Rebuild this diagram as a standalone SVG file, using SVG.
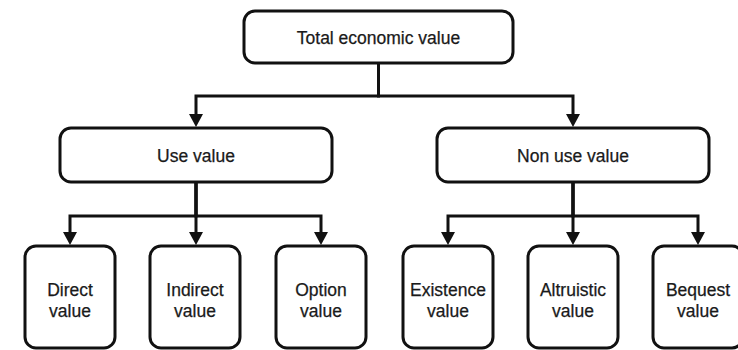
<svg xmlns="http://www.w3.org/2000/svg" width="738" height="350" viewBox="0 0 738 350">
  <style>
    .box { fill: #ffffff; stroke: #111111; stroke-width: 3; }
    .lbl { font-family: "Liberation Sans", Arial, sans-serif; font-size: 17.5px; fill: #1a1a1a; stroke: #1a1a1a; stroke-width: 0.25; text-anchor: middle; }
    .conn { fill: none; stroke: #111111; stroke-width: 3; stroke-linejoin: miter; marker-end: url(#arrow); }
  </style>
  <defs>
    <marker id="arrow" viewBox="0 -7 13 14" refX="0" refY="0" markerWidth="13" markerHeight="14" markerUnits="userSpaceOnUse" orient="auto">
      <path d="M0,-7 L13,0 L0,7 Z" fill="#111111"/>
    </marker>
  </defs>
  <rect width="738" height="350" fill="#ffffff"/>

  <g id="connectors">
    <path class="conn" d="M378.5,63 V96 H196 V114"/>
    <path class="conn" d="M378.5,63 V96 H573 V114"/>
    <path class="conn" d="M196,182 V216 H70 V232"/>
    <path class="conn" d="M196,182 V232"/>
    <path class="conn" d="M196,182 V216 H321 V232"/>
    <path class="conn" d="M573,182 V216 H448 V232"/>
    <path class="conn" d="M573,182 V232"/>
    <path class="conn" d="M573,182 V216 H698 V232"/>
  </g>

  <g id="total">
    <rect class="box" x="244" y="11" width="269" height="52" rx="11"/>
    <text class="lbl" x="378.5" y="43.5">Total economic value</text>
  </g>
  <g id="use">
    <rect class="box" x="60" y="128" width="272" height="54" rx="11"/>
    <text class="lbl" x="196" y="161.5">Use value</text>
  </g>
  <g id="nonuse">
    <rect class="box" x="437" y="128" width="272" height="54" rx="11"/>
    <text class="lbl" x="573" y="161.5">Non use value</text>
  </g>

  <g id="direct">
    <rect class="box" x="25" y="246" width="90" height="102" rx="11"/>
    <text class="lbl" x="70" y="296">Direct</text>
    <text class="lbl" x="70" y="317">value</text>
  </g>
  <g id="indirect">
    <rect class="box" x="150" y="246" width="90" height="102" rx="11"/>
    <text class="lbl" x="195" y="296">Indirect</text>
    <text class="lbl" x="195" y="317">value</text>
  </g>
  <g id="option">
    <rect class="box" x="276" y="246" width="90" height="102" rx="11"/>
    <text class="lbl" x="321" y="296">Option</text>
    <text class="lbl" x="321" y="317">value</text>
  </g>
  <g id="existence">
    <rect class="box" x="403" y="246" width="90" height="102" rx="11"/>
    <text class="lbl" x="448" y="296">Existence</text>
    <text class="lbl" x="448" y="317">value</text>
  </g>
  <g id="altruistic">
    <rect class="box" x="528" y="246" width="90" height="102" rx="11"/>
    <text class="lbl" x="573" y="296">Altruistic</text>
    <text class="lbl" x="573" y="317">value</text>
  </g>
  <g id="bequest">
    <rect class="box" x="653" y="246" width="90" height="102" rx="11"/>
    <text class="lbl" x="698" y="296">Bequest</text>
    <text class="lbl" x="698" y="317">value</text>
  </g>
</svg>
